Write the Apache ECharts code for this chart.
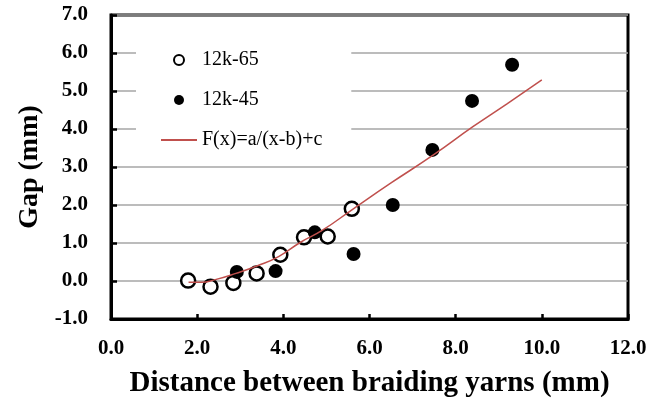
<!DOCTYPE html>
<html lang="en">
<head>
<meta charset="UTF-8">
<title>Gap vs distance</title>
<style>
  * { margin: 0; padding: 0; }
  #chart { width: 648px; height: 398px; }
</style>
</head>
<body>
<div id="chart"></div>
<script src="https://cdn.jsdelivr.net/npm/echarts@6/dist/echarts.min.js"></script>
<script>
// 12k-65 (open circles)
var open65X = [1.79, 2.31, 2.84, 3.38, 3.93, 4.48, 5.03, 5.59];
var open65Y = [0.01, -0.15, -0.05, 0.20, 0.69, 1.15, 1.17, 1.90];
// 12k-45 (filled circles)
var filled45X = [2.92, 3.82, 4.73, 5.63, 6.54, 7.46, 8.38, 9.31];
var filled45Y = [0.24, 0.26, 1.28, 0.71, 2.00, 3.45, 4.74, 5.69];
// fitted curve
var fitX = [1.8, 2.1, 2.4, 2.9, 3.4, 3.9, 4.4, 4.9, 5.6, 6.5, 7.5, 8.4, 9.2, 10.0];
var fitY = [-0.03, -0.03, 0.03, 0.20, 0.40, 0.65, 1.02, 1.33, 1.88, 2.58, 3.33, 4.06, 4.67, 5.29];

var seriesNames = ['12k-65', '12k-45', 'F(x)=a/(x-b)+c'];
var fontFam = "'Liberation Serif', 'Times New Roman', serif";

function pairs(xs, ys) {
  var out = [];
  for (var i = 0; i < xs.length; i++) out.push([xs[i], ys[i]]);
  return out;
}

var chart = echarts.init(document.getElementById('chart'));
var option = {
  animation: false,
  grid: {
    left: 111, right: 20, top: 15, bottom: 79,
    outerBoundsMode: 'none',
    containLabel: false,
    show: true, borderColor: '#000', borderWidth: 3
  },
  legend: {
    orient: 'vertical',
    left: 136, top: 40,
    padding: [10, 29, 10, 24],
    backgroundColor: '#fff',
    itemWidth: 36, itemHeight: 10, itemGap: 20,
    textStyle: { fontFamily: fontFam, fontSize: 20, color: '#000' },
    data: [
      { name: seriesNames[0], icon: 'circle' },
      { name: seriesNames[1], icon: 'circle' },
      { name: seriesNames[2], itemStyle: { opacity: 0 } }
    ]
  },
  xAxis: {
    type: 'value',
    min: 0, max: 12, interval: 2,
    name: 'Distance between braiding yarns (mm)',
    nameLocation: 'middle', nameGap: 50,
    nameTextStyle: { fontFamily: fontFam, fontSize: 29, fontWeight: 'bold', color: '#000' },
    axisLine: { onZero: false, lineStyle: { color: '#000', width: 3 } },
    axisTick: { inside: true, length: 5, lineStyle: { color: '#000', width: 2.5 } },
    axisLabel: {
      margin: 19,
      fontFamily: fontFam, fontSize: 21, fontWeight: 'bold', color: '#000',
      formatter: function (v) { return v.toFixed(1); }
    },
    splitLine: { show: false }
  },
  yAxis: {
    type: 'value',
    min: -1, max: 7, interval: 1,
    name: 'Gap (mm)',
    nameLocation: 'middle', nameGap: 67,
    nameTextStyle: { fontFamily: fontFam, fontSize: 28, fontWeight: 'bold', color: '#000' },
    axisLine: { onZero: false, lineStyle: { color: '#000', width: 3 } },
    axisTick: { inside: true, length: 6, lineStyle: { color: '#000', width: 2.5 } },
    axisLabel: {
      margin: 23,
      fontFamily: fontFam, fontSize: 21, fontWeight: 'bold', color: '#000',
      formatter: function (v) { return v.toFixed(1); }
    },
    splitLine: { show: true, lineStyle: { color: '#a6a6a6', width: 1.5 } }
  },
  series: [
    {
      name: seriesNames[0],
      type: 'scatter',
      symbol: 'circle', symbolSize: 14,
      itemStyle: { color: '#fff', borderColor: '#000', borderWidth: 2.5, opacity: 1 },
      data: pairs(open65X, open65Y)
    },
    {
      name: seriesNames[1],
      type: 'scatter',
      symbol: 'circle', symbolSize: 14,
      itemStyle: { color: '#000', opacity: 1 },
      data: pairs(filled45X, filled45Y)
    },
    {
      name: seriesNames[2],
      type: 'line',
      symbol: 'none',
      smooth: true,
      lineStyle: { color: '#c0504d', width: 1.5 },
      itemStyle: { color: '#c0504d' },
      data: pairs(fitX, fitY)
    }
  ]
};
chart.setOption(option);
</script>
</body>
</html>
